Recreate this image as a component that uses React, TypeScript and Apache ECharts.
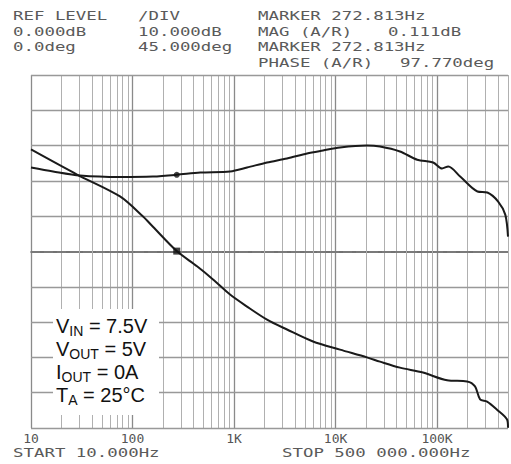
import React, { useEffect, useRef } from "react";
import * as echarts from "echarts";

// Gain (dB) vs frequency (Hz)
const gainFreq = [10, 28.4, 75.3, 127, 159, 272.8, 432, 621, 914, 1343, 2114, 3327, 6000, 11070, 20400, 27400, 43100, 72700, 125600, 197600, 236700, 265400, 311000, 390000, 489700, 500000];
const gainDb = [28.9, 21.8, 15.6, 9.9, 7.0, 0.111, -4.2, -7.9, -12.2, -15.6, -19.3, -22.1, -25.5, -27.8, -30.0, -31.2, -32.9, -34.3, -36.5, -36.8, -38.2, -41.9, -42.5, -44.8, -47.6, -49.9];

// Phase (deg) vs frequency (Hz)
const phaseFreq = [10, 16.5, 30.4, 75.3, 159, 272.8, 465, 914, 1343, 2114, 3327, 5240, 7530, 11070, 20400, 27400, 43100, 63800, 91600, 112000, 129000, 169000, 250000, 313000, 400000, 470000, 500000];
const phaseDeg = [107, 102, 96.9, 95.0, 95.6, 97.77, 100.7, 102, 107, 113.5, 118.6, 125, 128.8, 132.6, 135.1, 133.8, 127.5, 117, 113.5, 105.8, 108.4, 95.6, 76.5, 75.2, 63.7, 47, 19];

// Marker
const markerFreq = 272.813;
const markerGain = 0.111;
const markerPhase = 97.77;

// Axes
const freqMin = 10;
const freqMax = 500000;
const gainMin = -50;
const gainMax = 50;
const gainStep = 10;
const phaseMin = -225;
const phaseMax = 225;
const phaseStep = 45;
const xTickLabels: Record<string, string> = { "10": "10", "100": "100", "1000": "1K", "10000": "10K", "100000": "100K" };
const minorMultipliers = [2, 3, 4, 5, 6, 7, 8, 9];

// Texts
const headerCol1 = ["REF LEVEL", "0.000dB", "0.0deg"];
const headerCol2 = ["/DIV", "10.000dB", "45.000deg"];
const headerCol3 = ["MARKER 272.813Hz", "MAG (A/R)", "MARKER 272.813Hz", "PHASE (A/R)"];
const headerMag = "0.111dB";
const headerPhase = "97.770deg";
const startText = "START 10.000Hz";
const stopText = "STOP 500 000.000Hz";
const conditions = [
  ["V", "IN", " = 7.5V"],
  ["V", "OUT", " = 5V"],
  ["I", "OUT", " = 0A"],
  ["T", "A", " = 25°C"],
];

export default function App() {
  const ref = useRef<HTMLDivElement>(null);
  useEffect(() => {
    if (!ref.current) return;
    const chart = echarts.init(ref.current, undefined, { renderer: "svg" });

    // vertical grid lines (log)
    const vLines: any[] = [];
    for (let d = freqMin; d <= freqMax; d *= 10) {
      vLines.push({ xAxis: d, lineStyle: { color: "#8a8a8a", width: 1.3, type: "solid" } });
      for (const m of minorMultipliers) {
        const v = d * m;
        if (v <= freqMax) vLines.push({ xAxis: v, lineStyle: { color: "#b0b0b0", width: 1, type: "solid" } });
      }
    }
    // horizontal grid lines
    const hLines: any[] = [];
    for (let g = gainMin; g <= gainMax; g += gainStep) {
      hLines.push({
        yAxis: g,
        lineStyle: g === 0
          ? { color: "#7a7a7a", width: 2, type: [9, 4] }
          : { color: "#999", width: 1.3, type: "solid" },
      });
    }

    const mono = "DejaVu Sans Mono";
    const txtStyle = { fill: "#5a5a5a", font: `12px "${mono}"` };
    const SX = 1.45;
    const lineY = [10, 26, 41, 57];
    const graphics: any[] = [];
    headerCol1.forEach((t, i) => graphics.push({ type: "text", x: 13, y: lineY[i], scaleX: SX, style: { ...txtStyle, text: t } }));
    headerCol2.forEach((t, i) => graphics.push({ type: "text", x: 138, y: lineY[i], scaleX: SX, style: { ...txtStyle, text: t } }));
    headerCol3.forEach((t, i) => graphics.push({ type: "text", x: 258, y: lineY[i], scaleX: SX, style: { ...txtStyle, text: t } }));
    graphics.push({ type: "text", x: 388, y: lineY[1], scaleX: SX, style: { ...txtStyle, text: headerMag } });
    graphics.push({ type: "text", x: 400, y: lineY[3], scaleX: SX, style: { ...txtStyle, text: headerPhase } });
    graphics.push({ type: "text", x: 13, y: 447, scaleX: SX, style: { ...txtStyle, text: startText } });
    graphics.push({ type: "text", x: 282, y: 447, scaleX: SX, style: { ...txtStyle, text: stopText } });

    graphics.push({ type: "rect", shape: { x: 53, y: 309, width: 106, height: 106 }, style: { fill: "#fff" }, z: 50 });
    const rich = conditions.map((c) => `{n|${c[0]}}{s|${c[1]}}{n|${c[2]}}`).join("\n");
    graphics.push({
      type: "text",
      x: 56,
      y: 314,
      z: 51,
      style: {
        text: rich,
        fill: "#111",
        rich: {
          n: { fontSize: 20, fontFamily: "Liberation Sans", lineHeight: 23, fill: "#111" },
          s: { fontSize: 14, fontFamily: "Liberation Sans", lineHeight: 23, padding: [11, 0, 0, 0], fill: "#111" },
        },
      },
    });

    chart.setOption({
      animation: false,
      backgroundColor: "#fff",
      grid: { left: 31, right: 2, top: 75, bottom: 36 },
      xAxis: {
        type: "log",
        logBase: 10,
        min: freqMin,
        max: freqMax,
        axisLine: { show: true, lineStyle: { color: "#444", width: 1.5 } },
        axisTick: { show: true, inside: false, length: 4, lineStyle: { color: "#555" } },
        splitLine: { show: false },
        axisLabel: {
          margin: 4,
          color: "#555",
          fontFamily: mono,
          fontSize: 13,
          formatter: (v: number) => {
            const lg = Math.log10(v);
            if (Math.abs(lg - Math.round(lg)) > 1e-6) return "";
            return xTickLabels[String(Math.round(Math.pow(10, Math.round(lg))))] || "";
          },
        },
      },
      yAxis: [
        { type: "value", min: gainMin, max: gainMax, interval: gainStep, show: false, splitLine: { show: false } },
        { type: "value", min: phaseMin, max: phaseMax, interval: phaseStep, show: false, splitLine: { show: false } },
      ],
      series: [
        {
          type: "line",
          name: "grid",
          data: [],
          silent: true,
          markLine: { silent: true, symbol: "none", label: { show: false }, animation: false, data: [...vLines, ...hLines] },
        },
        {
          type: "line",
          name: "Gain",
          data: gainFreq.map((f, i) => [f, gainDb[i]]),
          showSymbol: false,
          smooth: 0.3,
          lineStyle: { color: "#1a1a1a", width: 2 },
          z: 10,
        },
        {
          type: "line",
          name: "Phase",
          yAxisIndex: 1,
          data: phaseFreq.map((f, i) => [f, phaseDeg[i]]),
          showSymbol: false,
          smooth: 0.3,
          lineStyle: { color: "#1a1a1a", width: 2 },
          z: 10,
        },
        {
          type: "scatter",
          data: [[markerFreq, markerGain]],
          symbol: "rect",
          symbolSize: 7,
          itemStyle: { color: "#111" },
          z: 11,
        },
        {
          type: "scatter",
          yAxisIndex: 1,
          data: [[markerFreq, markerPhase]],
          symbol: "circle",
          symbolSize: 6,
          itemStyle: { color: "#111" },
          z: 11,
        },
      ],
      graphic: graphics,
    });
    return () => chart.dispose();
  }, []);
  return <div ref={ref} style={{ width: 511, height: 464, position: "absolute", left: 0, top: 0 }} />;
}
